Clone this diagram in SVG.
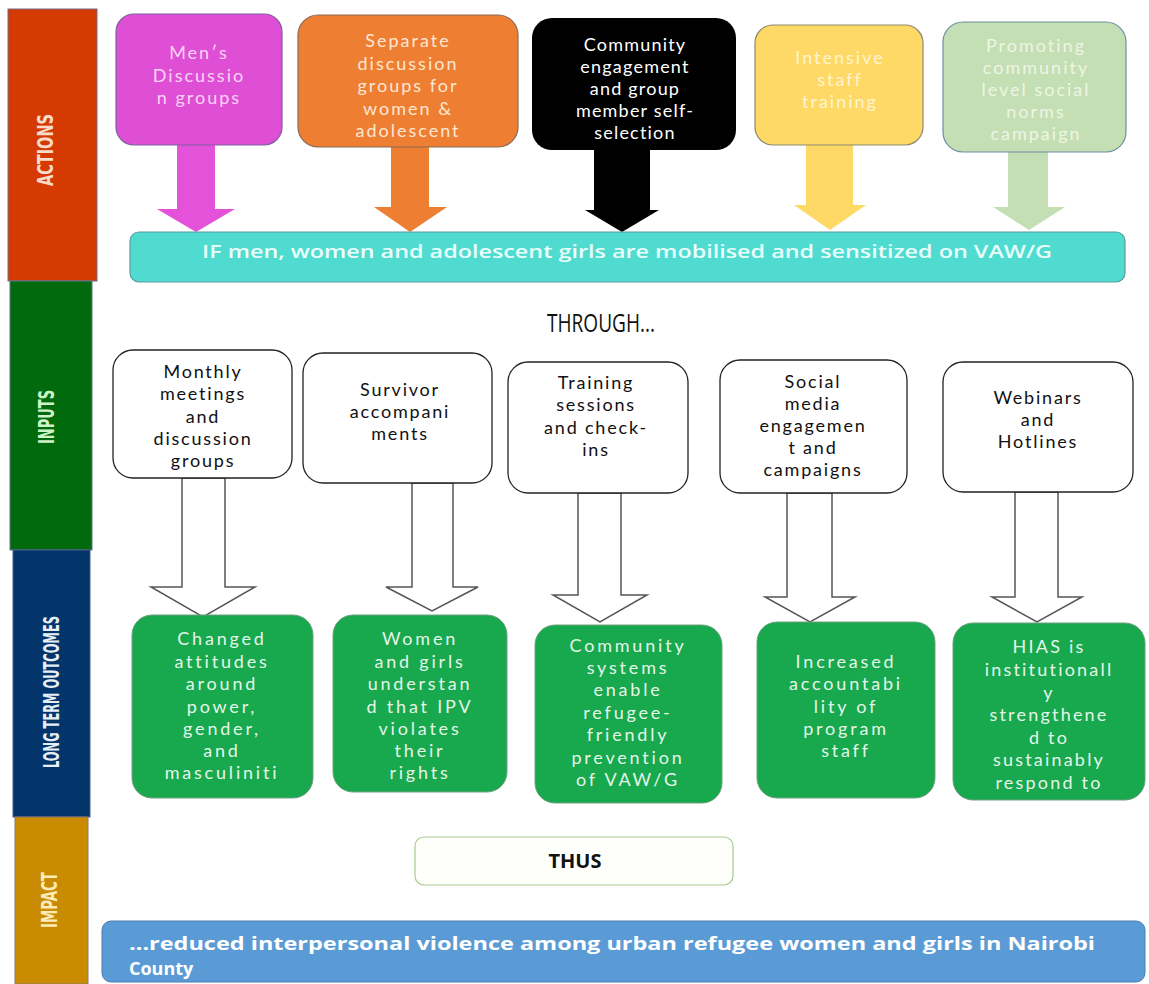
<svg xmlns="http://www.w3.org/2000/svg" width="1149" height="984" viewBox="0 0 1149 984">
<style>
.band{font-family:"DejaVu Sans Condensed","DejaVu Sans",sans-serif;font-weight:bold;font-size:22px;text-anchor:middle}
.bt{font-family:Lato,"Open Sans","Liberation Sans",sans-serif;font-size:18px;text-anchor:middle;letter-spacing:2px}
.it{font-family:Lato,"Open Sans","Liberation Sans",sans-serif;font-size:18px;text-anchor:middle;letter-spacing:1.8px;fill:#111}
.gt{font-family:Lato,"Open Sans","Liberation Sans",sans-serif;font-size:18px;text-anchor:middle;letter-spacing:2.8px;fill:#E4F6E8}
.inbox{fill:#fff;stroke:#222;stroke-width:1.3}
.green{fill:#18A84E;stroke:#6FA07E;stroke-width:1}
.harrow{fill:#fff;stroke:#555;stroke-width:1.5;stroke-linejoin:miter}
.bold{font-family:"Open Sans","Liberation Sans",sans-serif;font-weight:bold}
</style>

<!-- Left bands -->
<g id="band-actions">
<rect x="8" y="9" width="89" height="272" fill="#D43A02" stroke="#7a6a8a" stroke-width="1"/>
<text class="band" transform="translate(45,150) rotate(-90)" dy="8" fill="#F8DCCB" textLength="72" lengthAdjust="spacingAndGlyphs">ACTIONS</text>
</g>
<g id="band-inputs">
<rect x="10" y="281" width="82" height="269" fill="#006A0C" stroke="#5a7a8a" stroke-width="1"/>
<text class="band" transform="translate(46,417) rotate(-90)" dy="8" fill="#CFF3C8" textLength="54" lengthAdjust="spacingAndGlyphs">INPUTS</text>
</g>
<g id="band-outcomes">
<rect x="13" y="550" width="77" height="267" fill="#03346A" stroke="#4a5a8a" stroke-width="1"/>
<text class="band" transform="translate(51,692) rotate(-90)" dy="8" fill="#E6EEF6" textLength="152" lengthAdjust="spacingAndGlyphs">LONG TERM OUTCOMES</text>
</g>
<g id="band-impact">
<rect x="15" y="817" width="73" height="167" fill="#C98B02" stroke="#8a7a6a" stroke-width="1"/>
<text class="band" transform="translate(49,900) rotate(-90)" dy="8" fill="#FAEBB8" textLength="56" lengthAdjust="spacingAndGlyphs">IMPACT</text>
</g>

<!-- Connectors -->
<g id="connectors">
<polygon points="177,145 215,145 215,209 235,209 196,232 157,209 177,209" fill="#E352D8"/>
<polygon points="391,147 429,147 429,207 447,207 410,232 374,207 391,207" fill="#EE7E32"/>
<polygon points="594,149 650,149 650,210 659,210 622,232 585,210 594,210" fill="#000"/>
<polygon points="806,145 853,145 853,205 866,205 830,230 794,205 806,205" fill="#FFD966"/>
<polygon points="1008,152 1048,152 1048,207 1065,207 1029,230 993,207 1008,207" fill="#C4DFB3"/>

<polygon class="harrow" points="182,478 225,478 225,587 255,587 203,617 151,587 182,587"/>
<polygon class="harrow" points="412,483 453,483 453,587 478,587 432,611 386,587 412,587"/>
<polygon class="harrow" points="578,493 621,493 621,595 647,595 600,622 553,595 578,595"/>
<polygon class="harrow" points="787,493 832,493 832,597 855,597 810,622 765,597 787,597"/>
<polygon class="harrow" points="1015,492 1058,492 1058,597 1082,597 1037,622 992,597 1015,597"/>
</g>

<!-- Action boxes -->
<g id="action-mens">
<rect x="116" y="14" width="166" height="131" rx="18" fill="#DF4FD6" stroke="#7F5FA0" stroke-width="1.2"/>
<text class="bt" fill="#F9D3F4"><tspan x="199" y="59">Men′s</tspan><tspan x="199" y="82">Discussio</tspan><tspan x="199" y="104">n groups</tspan></text>
</g>
<g id="action-separate">
<rect x="298" y="15" width="220" height="132" rx="20" fill="#EE7E32" stroke="#8a6a55" stroke-width="1.2"/>
<text class="bt" fill="#FDE6D4"><tspan x="408" y="47">Separate</tspan><tspan x="408" y="70">discussion</tspan><tspan x="408" y="92">groups for</tspan><tspan x="408" y="115">women &amp;</tspan><tspan x="408" y="137">adolescent</tspan></text>
</g>
<g id="action-community">
<rect x="532" y="18" width="204" height="132" rx="20" fill="#000"/>
<text class="bt" fill="#fff" style="letter-spacing:1.2px"><tspan x="635" y="51">Community</tspan><tspan x="635" y="73">engagement</tspan><tspan x="635" y="95">and group</tspan><tspan x="635" y="117">member self-</tspan><tspan x="635" y="139">selection</tspan></text>
</g>
<g id="action-training">
<rect x="755" y="25" width="168" height="120" rx="18" fill="#FFD966" stroke="#8a8a70" stroke-width="1.2"/>
<text class="bt" fill="#FFF4D2"><tspan x="840" y="64">Intensive</tspan><tspan x="840" y="86">staff</tspan><tspan x="840" y="108">training</tspan></text>
</g>
<g id="action-norms">
<rect x="943" y="22" width="183" height="130" rx="20" fill="#C4DFB3" stroke="#6E8FA0" stroke-width="1.2"/>
<text class="bt" fill="#EDF5E6"><tspan x="1036" y="52">Promoting</tspan><tspan x="1036" y="74">community</tspan><tspan x="1036" y="96">level social</tspan><tspan x="1036" y="118">norms</tspan><tspan x="1036" y="140">campaign</tspan></text>
</g>

<g id="if-bar">
<rect x="130" y="232" width="995" height="50" rx="9" fill="#4FDBD0" stroke="#5C9C9C" stroke-width="1.2"/>
<text x="627" y="258" font-family="Open Sans, Liberation Sans, sans-serif" font-weight="600" font-size="18" text-anchor="middle" fill="#E8FFFC" textLength="850" lengthAdjust="spacingAndGlyphs">IF men, women and adolescent girls are mobilised and sensitized on VAW/G</text>
</g>

<g id="through">
<text x="601" y="332" font-family="Open Sans, Liberation Sans, sans-serif" font-size="26" text-anchor="middle" fill="#111" textLength="108" lengthAdjust="spacingAndGlyphs">THROUGH...</text>
</g>

<!-- Input boxes -->
<g id="input-monthly">
<rect class="inbox" x="113" y="350" width="179" height="128" rx="20"/>
<text class="it"><tspan x="203" y="378">Monthly</tspan><tspan x="203" y="400">meetings</tspan><tspan x="203" y="423">and</tspan><tspan x="203" y="445">discussion</tspan><tspan x="203" y="467">groups</tspan></text>
</g>
<g id="input-survivor">
<rect class="inbox" x="303" y="353" width="189" height="130" rx="20"/>
<text class="it"><tspan x="400" y="396">Survivor</tspan><tspan x="400" y="418">accompani</tspan><tspan x="400" y="440">ments</tspan></text>
</g>
<g id="input-training">
<rect class="inbox" x="508" y="362" width="180" height="131" rx="20"/>
<text class="it"><tspan x="596" y="389">Training</tspan><tspan x="596" y="411">sessions</tspan><tspan x="596" y="434">and check-</tspan><tspan x="596" y="456">ins</tspan></text>
</g>
<g id="input-social">
<rect class="inbox" x="720" y="360" width="187" height="133" rx="20"/>
<text class="it"><tspan x="813" y="388">Social</tspan><tspan x="813" y="410">media</tspan><tspan x="813" y="432">engagemen</tspan><tspan x="813" y="454">t and</tspan><tspan x="813" y="476">campaigns</tspan></text>
</g>
<g id="input-webinars">
<rect class="inbox" x="943" y="362" width="190" height="130" rx="20"/>
<text class="it"><tspan x="1038" y="404">Webinars</tspan><tspan x="1038" y="426">and</tspan><tspan x="1038" y="448">Hotlines</tspan></text>
</g>

<!-- Outcome boxes -->
<g id="outcome-attitudes">
<rect class="green" x="132" y="615" width="181" height="183" rx="20"/>
<text class="gt"><tspan x="222" y="645">Changed</tspan><tspan x="222" y="668">attitudes</tspan><tspan x="222" y="690">around</tspan><tspan x="222" y="713">power,</tspan><tspan x="222" y="735">gender,</tspan><tspan x="222" y="757">and</tspan><tspan x="222" y="779">masculiniti</tspan></text>
</g>
<g id="outcome-rights">
<rect class="green" x="333" y="615" width="174" height="177" rx="20"/>
<text class="gt"><tspan x="420" y="645">Women</tspan><tspan x="420" y="668">and girls</tspan><tspan x="420" y="690">understan</tspan><tspan x="420" y="713">d that IPV</tspan><tspan x="420" y="735">violates</tspan><tspan x="420" y="757">their</tspan><tspan x="420" y="779">rights</tspan></text>
</g>
<g id="outcome-systems">
<rect class="green" x="535" y="625" width="187" height="178" rx="20"/>
<text class="gt"><tspan x="628" y="652">Community</tspan><tspan x="628" y="674">systems</tspan><tspan x="628" y="696">enable</tspan><tspan x="628" y="719">refugee-</tspan><tspan x="628" y="741">friendly</tspan><tspan x="628" y="764">prevention</tspan><tspan x="628" y="786">of VAW/G</tspan></text>
</g>
<g id="outcome-accountability">
<rect class="green" x="757" y="622" width="178" height="176" rx="20"/>
<text class="gt"><tspan x="846" y="668">Increased</tspan><tspan x="846" y="690">accountabi</tspan><tspan x="846" y="713">lity of</tspan><tspan x="846" y="735">program</tspan><tspan x="846" y="757">staff</tspan></text>
</g>
<g id="outcome-hias">
<rect class="green" x="953" y="623" width="192" height="177" rx="20"/>
<text class="gt" style="letter-spacing:2.2px"><tspan x="1049" y="653">HIAS is</tspan><tspan x="1049" y="676">institutionall</tspan><tspan x="1049" y="699">y</tspan><tspan x="1049" y="721">strengthene</tspan><tspan x="1049" y="744">d to</tspan><tspan x="1049" y="766">sustainably</tspan><tspan x="1049" y="789">respond to</tspan></text>
</g>

<g id="thus">
<rect x="415" y="837" width="318" height="48" rx="9" fill="#FEFEFA" stroke="#A9C98E" stroke-width="1.2"/>
<text class="bold" x="575" y="868" font-size="20" text-anchor="middle" fill="#111">THUS</text>
</g>

<g id="impact-bar">
<rect x="102" y="921" width="1043" height="61" rx="9" fill="#5B9BD5" stroke="#4A7FB0" stroke-width="1"/>
<text class="bold" font-size="18" fill="#FFFFFF"><tspan x="129" y="950" textLength="966" lengthAdjust="spacingAndGlyphs">...reduced interpersonal violence among urban refugee women and girls in Nairobi</tspan><tspan x="129" y="975">County</tspan></text>
</g>
</svg>
